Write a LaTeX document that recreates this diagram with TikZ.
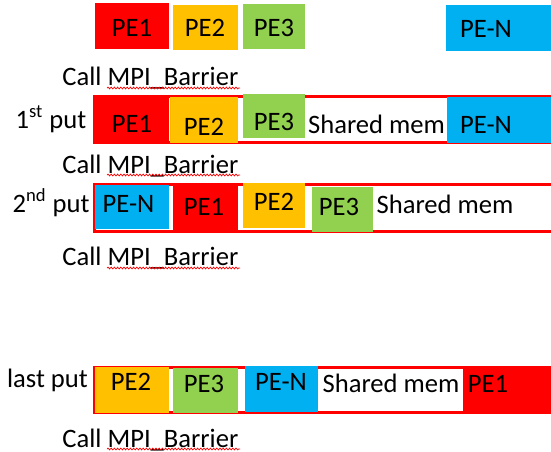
\documentclass[tikz,border=0pt]{standalone}
\usepackage{fontspec}
\setmainfont{Carlito}
\usetikzlibrary{decorations.pathmorphing}
\definecolor{pered}{HTML}{FF0000}
\definecolor{peorange}{HTML}{FFC000}
\definecolor{pegreen}{HTML}{92D050}
\definecolor{peblue}{HTML}{00B0F0}
\begin{document}
\begin{tikzpicture}[x=0.5pt,y=-0.5pt,
  txt/.style={anchor=base,inner sep=0pt,font=\fontsize{13.3}{15}\selectfont},
  memline/.style={draw=pered,line width=1.5pt,fill=white},
  wavy/.style={draw=pered,line width=0.35pt,decorate,decoration={snake,amplitude=0.45pt,segment length=1.6pt}}]
\useasboundingbox (0,0) rectangle (551,451);
\clip (0,0) rectangle (551,451);
% top row
\fill[pered] (95,3) rectangle (169,49);
\fill[peorange] (173,5) rectangle (238,50);
\fill[pegreen] (243,4) rectangle (305,49);
\fill[peblue] (446,5) rectangle (560,51);
\node[txt] (t1) at (132,36) {PE1};
\node[txt] (t2) at (205,36) {PE2};
\node[txt] (t3) at (274,36) {PE3};
\node[txt] (tN) at (486,37) {PE-N};
% barrier 1
\node[txt,anchor=base west] (b1) at (62,85) {Call MPI\_Barrier};
\draw[wavy] (107,88) -- (240,88);
% 1st put
\draw[memline] (94,96) rectangle (570,142);
\fill[pered] (94,95) rectangle (169,143);
\fill[peorange] (170,97) rectangle (238,143);
\fill[pegreen] (243,94) rectangle (305,138);
\fill[peblue] (447,97) rectangle (560,143);
\node[txt] (r1a) at (132,132) {PE1};
\node[txt] (r1b) at (204,135) {PE2};
\node[txt] (r1c) at (274,130) {PE3};
\node[txt] (r1m) at (376.5,133) {Shared mem};
\node[txt] (r1n) at (486,133) {PE-N};
\node[txt] (l1) at (51,128) {1\textsuperscript{st} put};
% barrier 2
\node[txt,anchor=base west] (b2) at (62,173) {Call MPI\_Barrier};
\draw[wavy] (107,175) -- (240,175);
% 2nd put
\draw[memline] (94,184) rectangle (570,231);
\fill[peblue] (95,185) rectangle (169,229);
\fill[pered] (173,186) rectangle (238,232);
\fill[peorange] (243,183) rectangle (305,228);
\fill[pegreen] (312,187) rectangle (373,232);
\node[txt] (r2a) at (128.5,212) {PE-N};
\node[txt] (r2b) at (204,215) {PE1};
\node[txt] (r2c) at (274,210) {PE2};
\node[txt] (r2d) at (339,215) {PE3};
\node[txt] (r2m) at (445,213) {Shared mem};
\node[txt] (l2) at (51,212) {2\textsuperscript{nd} put};
% barrier 3
\node[txt,anchor=base west] (b3) at (62,265) {Call MPI\_Barrier};
\draw[wavy] (107,268) -- (240,268);
% last put
\draw[memline] (94,367) rectangle (570,412);
\fill[peorange] (95,367) rectangle (169,413);
\fill[pegreen] (173,368) rectangle (238,413);
\fill[peblue] (245,366) rectangle (318,412);
\fill[pered] (463,366) rectangle (560,412);
\node[txt] (r3a) at (131,390) {PE2};
\node[txt] (r3b) at (204,392) {PE3};
\node[txt] (r3c) at (281,390) {PE-N};
\node[txt] (r3m) at (391,392) {Shared mem};
\node[txt] (r3d) at (488,392) {PE1};
\node[txt] (l3) at (47.5,387) {last put};
% barrier 4
\node[txt,anchor=base west] (b4) at (62,447) {Call MPI\_Barrier};
\draw[wavy] (107,449) -- (240,449);
\end{tikzpicture}
\end{document}
